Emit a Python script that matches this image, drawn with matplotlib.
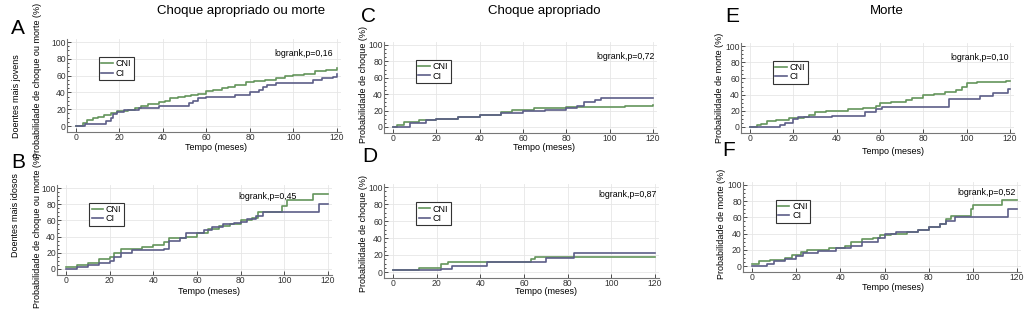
import numpy as np
import matplotlib.pyplot as plt

plt.rcParams['font.family'] = ['Liberation Sans', 'DejaVu Sans']

W, H = 1024, 309

# ---- data (step curves: event time in months, cumulative probability %) ----
A_cni_t = [0, 3, 5, 8, 10, 13, 16, 19, 24, 27, 30, 33, 38, 41, 43, 47, 50, 53, 56, 60, 63, 67, 70, 73, 78, 82, 87, 92, 96, 100, 105, 110, 115, 120]
A_cni_y = [0, 4, 7, 9, 11, 13, 15, 18, 19, 21, 24, 26, 28, 30, 33, 35, 36, 37, 38, 42, 43, 45, 47, 49, 52, 54, 55, 57, 59, 61, 62, 65, 67, 69]
A_ci_t = [0, 4, 14, 16, 17, 19, 22, 29, 38, 52, 54, 56, 60, 73, 80, 84, 86, 88, 92, 109, 113, 118, 120]
A_ci_y = [0, 2, 6, 10, 14, 17, 19, 22, 24, 27, 30, 33, 35, 37, 40, 43, 46, 49, 51, 55, 57, 58, 62]

B_cni_t = [0, 5, 10, 15, 20, 22, 25, 35, 40, 45, 47, 55, 60, 65, 70, 75, 80, 85, 88, 99, 101, 113, 120]
B_cni_y = [3, 5, 8, 12, 15, 20, 25, 27, 30, 33, 38, 40, 45, 50, 53, 56, 60, 63, 70, 78, 85, 93, 93]
B_ci_t = [0, 5, 10, 15, 20, 22, 25, 30, 45, 47, 52, 55, 63, 67, 72, 77, 80, 83, 87, 90, 116, 120]
B_ci_y = [0, 3, 5, 8, 10, 15, 20, 23, 25, 35, 38, 45, 48, 52, 55, 57, 58, 62, 65, 70, 80, 80]

C_cni_t = [0, 2, 5, 12, 20, 30, 40, 50, 55, 65, 80, 107, 120]
C_cni_y = [0, 3, 6, 8, 10, 12, 15, 18, 21, 23, 24, 26, 27]
C_ci_t = [0, 8, 15, 20, 30, 40, 50, 60, 70, 80, 85, 88, 93, 96, 120]
C_ci_y = [0, 5, 8, 10, 12, 15, 17, 19, 21, 23, 25, 30, 33, 35, 35]

D_cni_t = [0, 12, 22, 25, 63, 65, 120]
D_cni_y = [2, 5, 10, 12, 15, 18, 18]
D_ci_t = [0, 22, 27, 43, 70, 83, 120]
D_ci_y = [2, 4, 7, 12, 17, 22, 22]

E_cni_t = [0, 3, 5, 8, 12, 18, 25, 27, 30, 35, 45, 52, 58, 60, 65, 72, 75, 80, 85, 90, 95, 98, 100, 105, 118, 120]
E_cni_y = [0, 2, 4, 7, 9, 11, 12, 15, 18, 20, 22, 24, 26, 30, 31, 33, 36, 39, 41, 43, 46, 50, 54, 55, 57, 57]
E_ci_t = [0, 14, 16, 20, 22, 38, 53, 58, 61, 92, 106, 112, 119, 120]
E_ci_y = [0, 2, 5, 10, 12, 14, 18, 22, 25, 35, 38, 42, 47, 47]

F_cni_t = [0, 3, 8, 15, 18, 22, 25, 35, 42, 45, 50, 55, 58, 63, 70, 75, 80, 85, 88, 90, 99, 100, 113, 120]
F_cni_y = [3, 6, 8, 10, 14, 17, 20, 22, 25, 30, 33, 35, 38, 40, 42, 45, 48, 52, 58, 62, 70, 75, 82, 82]
F_ci_t = [0, 7, 10, 15, 20, 23, 30, 38, 45, 50, 57, 60, 65, 75, 80, 85, 88, 92, 116, 120]
F_ci_y = [0, 3, 6, 9, 12, 16, 18, 22, 25, 30, 35, 40, 42, 45, 48, 52, 55, 60, 70, 70]

groups = ['CNI', 'CI']
pvals = ['logrank,p=0,16', 'logrank,p=0,45', 'logrank,p=0,72',
         'logrank,p=0,87', 'logrank,p=0,10', 'logrank,p=0,52']
ylabels = ['Probabilidade de choque ou morte (%)', 'Probabilidade de choque ou morte (%)',
           'Probabilidade de choque (%)', 'Probabilidade de choque (%)',
           'Probabilidade de morte (%)', 'Probabilidade de morte (%)']
col_titles = ['Choque apropriado ou morte', 'Choque apropriado', 'Morte']
row_labels = ['Doentes mais jovens', 'Doentes mais idosos']
letters = ['A', 'B', 'C', 'D', 'E', 'F']

curves = [
    (A_cni_t, A_cni_y, A_ci_t, A_ci_y),
    (B_cni_t, B_cni_y, B_ci_t, B_ci_y),
    (C_cni_t, C_cni_y, C_ci_t, C_ci_y),
    (D_cni_t, D_cni_y, D_ci_t, D_ci_y),
    (E_cni_t, E_cni_y, E_ci_t, E_ci_y),
    (F_cni_t, F_cni_y, F_ci_t, F_ci_y),
]

# pixel anchors: x of t=0, x of t=120, y of 0%, y of 100%
anchors = [
    (76, 337, 126, 42),
    (66, 328, 269, 188),
    (393, 653, 127, 45),
    (393, 655, 272, 187),
    (750, 1010, 127, 46),
    (752, 1017, 266, 185),
]
XLIM = (-4, 122)
YLIM = (-7, 104)

# label positions in pixels
ylab_pos = [(38, 80), (38, 230), (364, 85), (364, 233), (719, 88), (722, 224)]
xlab_pos = [(216, 147), (209, 291), (544, 147), (546, 292), (893, 151), (893, 288)]
letter_pos = [(18, 28), (18, 162), (369, 16), (370, 157), (732, 17), (729, 150)]
pval_pos = [(0.97, 0.84), (0.87, 0.87), (0.99, 0.84), (0.99, 0.88), (0.98, 0.84), (0.98, 0.88)]

green = '#64955b'
slate = '#5c5e88'


def fx(x):
    return x / W


def fy(y):
    return 1 - y / H


def axes_rect(a):
    x0, x120, y0, y100 = a
    sx = (x120 - x0) / 120
    sy = (y0 - y100) / 100
    left = x0 + XLIM[0] * sx
    right = x0 + XLIM[1] * sx
    bottom = y0 - YLIM[0] * sy
    top = y0 - YLIM[1] * sy
    return [fx(left), fy(bottom), (right - left) / W, (bottom - top) / H]


fig = plt.figure(figsize=(W / 100, H / 100), dpi=100)

for i in range(6):
    ax = fig.add_axes(axes_rect(anchors[i]))
    t1, y1, t2, y2 = curves[i]
    ax.step(t1, y1, where='post', color=green, lw=1.2, label=groups[0])
    ax.step(t2, y2, where='post', color=slate, lw=1.2, label=groups[1])
    ax.set_xlim(*XLIM)
    ax.set_ylim(*YLIM)
    ax.set_xticks(np.arange(0, 121, 20))
    ax.set_yticks(np.arange(0, 101, 20))
    ax.set_yticks(np.arange(0, 101, 5), minor=True)
    ax.tick_params(labelsize=6.2, length=3, width=0.6, colors='#333333', direction='in', pad=1)
    ax.tick_params(axis='y', which='minor', length=1.5, width=0.5, direction='in')
    ax.grid(True, color='#e6e6e6', lw=0.6)
    ax.set_axisbelow(True)
    for s in ['top', 'right']:
        ax.spines[s].set_visible(False)
    for s in ['left', 'bottom']:
        ax.spines[s].set_color('#777777')
        ax.spines[s].set_linewidth(0.8)
    leg = ax.legend(loc='upper left', bbox_to_anchor=(0.1, 0.85), fontsize=6.5,
                    handlelength=1.3, handletextpad=0.3, borderpad=0.25,
                    labelspacing=0.05, fancybox=False, framealpha=1)
    leg.get_frame().set_edgecolor('#333333')
    leg.get_frame().set_linewidth(0.8)
    ax.text(pval_pos[i][0], pval_pos[i][1], pvals[i], transform=ax.transAxes,
            ha='right', va='center', fontsize=6.3)

    fig.text(fx(ylab_pos[i][0]), fy(ylab_pos[i][1]), ylabels[i], rotation=90,
             ha='center', va='center', fontsize=6.5)
    fig.text(fx(xlab_pos[i][0]), fy(xlab_pos[i][1]), 'Tempo (meses)',
             ha='center', va='center', fontsize=6.5)
    fig.text(fx(letter_pos[i][0]), fy(letter_pos[i][1]), letters[i],
             ha='center', va='center', fontsize=15)

title_pos = [(241, 11), (544, 11), (887, 11)]
for title, (x, y) in zip(col_titles, title_pos):
    fig.text(fx(x), fy(y), title, ha='center', va='center', fontsize=9.5)

row_pos = [(17, 96), (16, 215)]
for lab, (x, y) in zip(row_labels, row_pos):
    fig.text(fx(x), fy(y), lab, rotation=90, ha='center', va='center', fontsize=6.5)

fig.savefig('out.png', dpi=100)
